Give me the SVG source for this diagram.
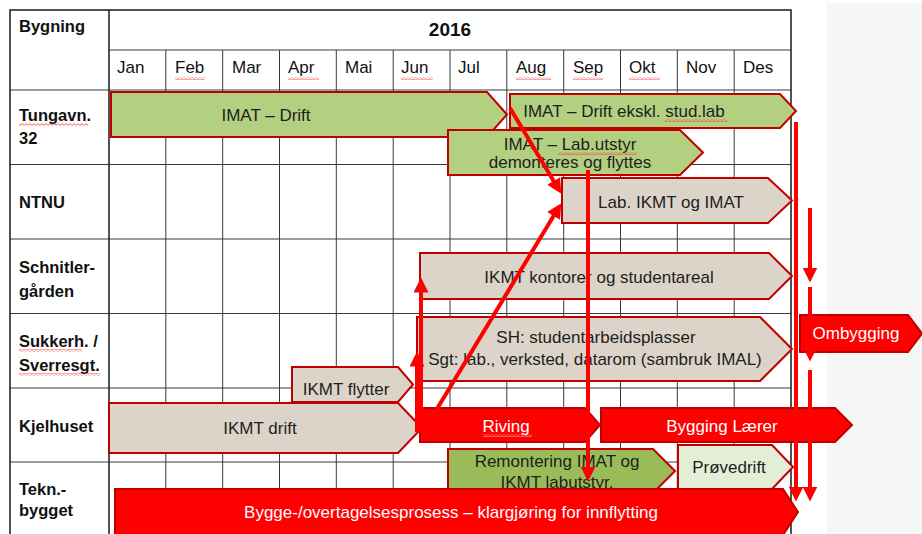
<svg xmlns="http://www.w3.org/2000/svg" width="922" height="534" viewBox="0 0 922 534">
<defs>
<style>
.grid{stroke:#3a3a3a;stroke-width:1;fill:none}
.border{stroke:#1a1a1a;stroke-width:1.5;fill:none}
.hdr{font-family:"Liberation Sans",Arial,sans-serif;font-size:16.5px;font-weight:bold;fill:#111}
.mon{font-family:"Liberation Sans",Arial,sans-serif;font-size:17px;fill:#111}
.bt{font-family:"Liberation Sans",Arial,sans-serif;font-size:17px;fill:#1e1e1e;text-anchor:middle}
.wt{font-family:"Liberation Sans",Arial,sans-serif;font-size:17px;fill:#ffffff;text-anchor:middle}
.green{fill:#b3cf80;stroke:#c00000;stroke-width:2}
.olive{fill:#9bbb59;stroke:#c00000;stroke-width:2}
.pale{fill:#e4eed6;stroke:#c00000;stroke-width:2}
.tan{fill:#dcd4c8;stroke:#c00000;stroke-width:2}
.red{fill:#ff0000;stroke:#c00000;stroke-width:2}
.conn{stroke:#ff0000;stroke-width:4;fill:none;marker-end:url(#ah)}
.sq{fill:url(#wave)}
.sqw{fill:url(#wavew)}
</style>
<marker id="ah" viewBox="0 0 10 10" refX="7" refY="5" markerWidth="15" markerHeight="15" markerUnits="userSpaceOnUse" orient="auto">
<path d="M0,0 L10,5 L0,10 z" fill="#ff0000"/>
</marker>
<pattern id="wave" width="4" height="3" patternUnits="userSpaceOnUse">
<path d="M0,2.4 L2,0.6 L4,2.4" stroke="#ff3030" stroke-width="0.8" fill="none"/>
</pattern>
<pattern id="wavew" width="4" height="3" patternUnits="userSpaceOnUse">
<path d="M0,2.4 L2,0.6 L4,2.4" stroke="#ffd0d0" stroke-width="0.8" fill="none"/>
</pattern>
</defs>

<rect x="0" y="0" width="922" height="534" fill="#ffffff"/>
<rect x="827" y="3" width="95" height="531" fill="#f6f6f6"/>

<g id="table">
<path class="grid" d="M165.8,50V534M222.7,50V534M279.5,50V534M336.3,50V534M393.2,50V534M450,50V534M506.8,50V534M563.7,50V534M620.5,50V534M677.3,50V534M734.2,50V534"/>
<path class="grid" d="M109,50H791M10,90H791M10,164.5H791M10,239H791M10,313.5H791M10,388H791M10,462H791"/>
<path class="border" d="M10,534V10H791V534M109,10V534"/>
<text class="hdr" x="19" y="32">Bygning</text>
<text class="hdr" x="450" y="36" text-anchor="middle" style="font-size:19px">2016</text>
<text class="mon" x="117" y="73">Jan</text>
<text class="mon" x="175" y="73">Feb</text>
<text class="mon" x="232" y="73">Mar</text>
<text class="mon" x="288" y="73">Apr</text>
<text class="mon" x="345" y="73">Mai</text>
<text class="mon" x="401" y="73">Jun</text>
<text class="mon" x="458" y="73">Jul</text>
<text class="mon" x="516" y="73">Aug</text>
<text class="mon" x="573" y="73">Sep</text>
<text class="mon" x="629" y="73">Okt</text>
<text class="mon" x="686" y="73">Nov</text>
<text class="mon" x="743" y="73">Des</text>
<rect class="sq" x="175" y="77" width="30" height="3"/>
<rect class="sq" x="288" y="77" width="31" height="3"/>
<rect class="sq" x="401" y="77" width="32" height="3"/>
<rect class="sq" x="516" y="77" width="35" height="3"/>
<rect class="sq" x="573" y="77" width="30" height="3"/>
<rect class="sq" x="629" y="77" width="31" height="3"/>
</g>

<g id="labels">
<text class="hdr" x="19" y="121">Tungavn.</text>
<text class="hdr" x="19" y="144">32</text>
<rect class="sq" x="19" y="123" width="69" height="3"/>
<text class="hdr" x="19" y="208">NTNU</text>
<text class="hdr" x="19" y="273">Schnitler-</text>
<text class="hdr" x="19" y="297">gården</text>
<text class="hdr" x="19" y="347">Sukkerh. /</text>
<rect class="sq" x="19" y="349" width="63" height="3"/>
<text class="hdr" x="19" y="371">Sverresgt.</text>
<rect class="sq" x="19" y="373" width="81" height="3"/>
<text class="hdr" x="19" y="432">Kjelhuset</text>
<text class="hdr" x="19" y="495">Tekn.-</text>
<text class="hdr" x="19" y="516">bygget</text>
</g>

<g id="imat-drift">
<polygon class="green" points="111,92 487,92 507,114.5 487,137 111,137"/>
<text class="bt" x="266" y="121">IMAT – Drift</text>
</g>
<g id="imat-drift-ekskl">
<polygon class="green" points="510,94 780,94 796,111 780,128 510,128"/>
<text class="bt" x="624" y="117">IMAT – Drift ekskl. stud.lab</text>
<rect class="sq" x="665" y="119" width="62" height="3"/>
</g>
<g id="imat-lab">
<polygon class="green" points="448,130 680,130 703,152.5 680,175 448,175"/>
<text class="bt" x="570" y="150">IMAT – Lab.utstyr</text>
<rect class="sq" x="558" y="152" width="79" height="3"/>
<text class="bt" x="570" y="168">demonteres og flyttes</text>
</g>
<g id="lab-ikmt">
<polygon class="tan" points="562,178 768,178 792,200.5 768,223 562,223"/>
<text class="bt" x="671" y="208">Lab. IKMT og IMAT</text>
</g>
<g id="ikmt-kontorer">
<polygon class="tan" points="420,253 769,253 792,276 769,299 420,299"/>
<text class="bt" x="599" y="283">IKMT kontorer og studentareal</text>
</g>
<g id="sh">
<polygon class="tan" points="417,317 760,317 792,349 760,381 417,381"/>
<text class="bt" x="596" y="343">SH: studentarbeidsplasser</text>
<text class="bt" x="595" y="365">Sgt: lab., verksted, datarom (sambruk IMAL)</text>
</g>
<g id="ombygging">
<polygon class="red" points="800,315 908,315 922,333.5 908,352 800,352"/>
<text class="wt" x="856" y="339">Ombygging</text>
</g>
<g id="ikmt-flytter">
<polygon class="tan" points="292,367 398,367 413,384.5 398,402 292,402"/>
<text class="bt" x="346" y="395">IKMT flytter</text>
</g>
<g id="ikmt-drift">
<polygon class="tan" points="109,403 398,403 422,428 398,453 109,453"/>
<text class="bt" x="260" y="434">IKMT drift</text>
</g>
<g id="riving">
<polygon class="red" points="420,408 585,408 600,425 585,442 420,442"/>
<text class="wt" x="506" y="432">Riving</text>
<rect class="sqw" x="483" y="434" width="49" height="3"/>
</g>
<g id="bygging">
<polygon class="red" points="601,408 835,408 852,425 835,442 601,442"/>
<text class="wt" x="722" y="432">Bygging Lærer</text>
</g>
<g id="remontering">
<polygon class="olive" points="448,449 653,449 675,471 653,493 448,493"/>
<text class="bt" x="557" y="467">Remontering IMAT og</text>
<text class="bt" x="557" y="488">IKMT labutstyr.</text>
<rect class="sq" x="543" y="489" width="70" height="3"/>
</g>
<g id="provedrift">
<polygon class="pale" points="678,445 772,445 793,467 772,489 678,489"/>
<text class="bt" x="729" y="473">Prøvedrift</text>
</g>
<g id="bygge">
<polygon class="red" points="115,489 783,489 798,512 783,535 115,535"/>
<text class="wt" x="451" y="518">Bygge-/overtagelsesprosess – klargjøring for innflytting</text>
</g>

<g id="connectors">
<line class="conn" x1="510" y1="108" x2="559" y2="190"/>
<line class="conn" x1="423" y1="432" x2="559" y2="207"/>
<line class="conn" x1="421" y1="432" x2="421" y2="282"/>
<line class="conn" x1="417" y1="432" x2="417" y2="356"/>
<line class="conn" x1="588" y1="170" x2="588" y2="477"/>
<line class="conn" x1="796" y1="122" x2="796" y2="497"/>
<line class="conn" x1="810" y1="208" x2="810" y2="278"/>
<line class="conn" x1="810" y1="287" x2="810" y2="357"/>
<line class="conn" x1="810" y1="370" x2="810" y2="497"/>
</g>
</svg>
